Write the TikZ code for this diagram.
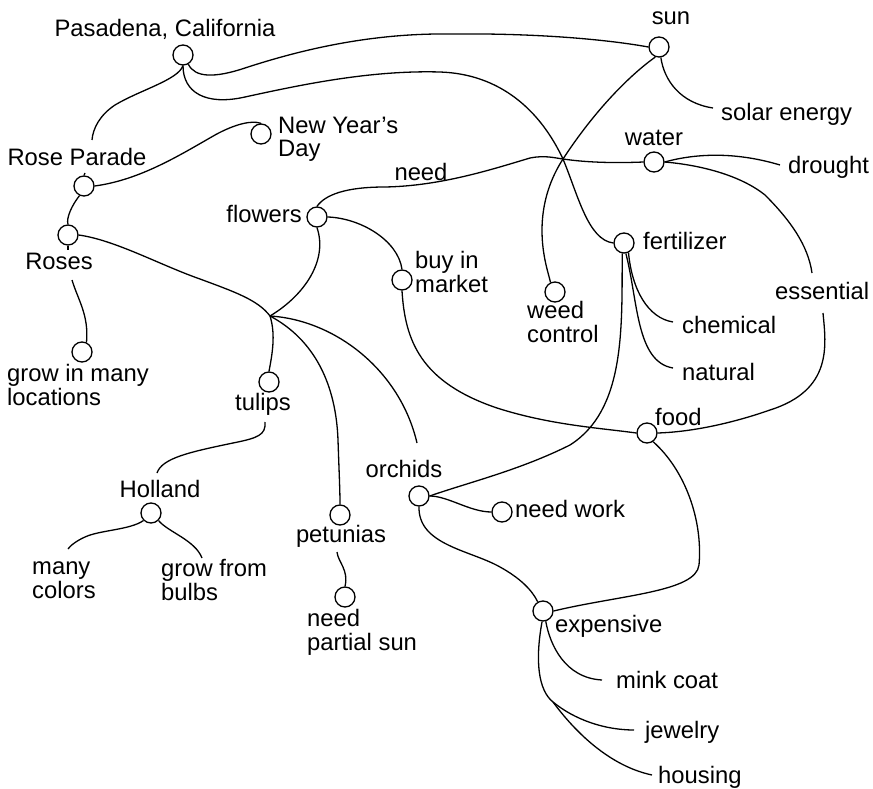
\documentclass[tikz,border=0pt]{standalone}
\usepackage{fontspec}
\setmainfont{Liberation Sans}
\begin{document}
\begin{tikzpicture}[x=1pt,y=-1pt,
  dot/.style={circle,draw,line width=1.3pt,minimum size=20pt,inner sep=0pt},
  lab/.style={inner sep=0pt,font=\fontsize{23.8}{23.5}\selectfont,align=left},
  con/.style={line width=1.3pt}]
\useasboundingbox (0,0) rectangle (873,789);
% circles
\node[dot] (pas) at (183,55) {};
\node[dot] (sun) at (659,47) {};
\node[dot] (wat) at (654,162) {};
\node[dot] (fer) at (624,243) {};
\node[dot] (weed) at (555,292) {};
\node[dot] (food) at (647,433) {};
\node[dot] (orc) at (419,496) {};
\node[dot] (nw) at (502,512) {};
\node[dot] (exp) at (543,611) {};
\node[dot] (pet) at (340,515) {};
\node[dot] (nps) at (345,597) {};
\node[dot] (tul) at (269,382) {};
\node[dot] (hol) at (151,513) {};
\node[dot] (gml) at (82,352) {};
\node[dot] (ros) at (68,235) {};
\node[dot] (rp) at (84,186) {};
\node[dot] (nyd) at (261,134) {};
\node[dot] (flo) at (317,217) {};
\node[dot] (bim) at (402,280) {};
% free ends
\coordinate (hub) at (270,316);
\coordinate (se) at (713,108);
\coordinate (dr) at (780,165);
\coordinate (es1) at (812,273);
\coordinate (es2) at (823,313);
\coordinate (ch) at (673,322);
\coordinate (na) at (673,368);
\coordinate (mk) at (602,680);
\coordinate (br) at (553,702);
\coordinate (jw) at (634,730);
\coordinate (hs) at (652,775);
\coordinate (mc) at (68,549);
\coordinate (gb) at (202,558);
\coordinate (rpa) at (92,140);
\coordinate (rpb) at (85,173);
\coordinate (rsa) at (68,250);
\coordinate (rsb) at (72,280);
\coordinate (tb) at (265,422);
\coordinate (ht) at (157,473);
\coordinate (pb) at (337,552);
\coordinate (oa) at (417,443);
% connectors
\draw[con] (pas.-60) .. controls (195,78) and (215,78) .. (245,68) .. controls (300,50) and (370,33) .. (450,34) .. controls (540,33) and (610,40) .. (sun.west);
\draw[con] (pas.south) .. controls (183,92) and (205,106) .. (245,97) .. controls (300,85) and (370,70) .. (440,72) .. controls (500,74) and (540,110) .. (563,159) .. controls (578,195) and (588,240) .. (fer.west);
\draw[con] (sun.-80) .. controls (664,80) and (680,103) .. (se);
\draw[con] (sun.-110) .. controls (630,75) and (595,110) .. (563,159) .. controls (543,190) and (538,225) .. (545,260) .. controls (547,270) and (549,276) .. (weed.115);
\draw[con] (flo.north) .. controls (325,195) and (345,187) .. (385,187) .. controls (440,186) and (490,170) .. (530,158) .. controls (545,155) and (555,158) .. (563,159) .. controls (590,163) and (620,163) .. (wat.west);
\draw[con] (wat.east) .. controls (690,155) and (730,150) .. (dr);
\draw[con] (wat.east) .. controls (700,165) and (740,175) .. (765,195) .. controls (790,220) and (808,245) .. (es1);
\draw[con] (es2) .. controls (826,345) and (833,390) .. (770,410) .. controls (730,424) and (690,432) .. (food.east);
\draw[con] (fer.-65) .. controls (632,290) and (648,318) .. (ch);
\draw[con] (fer.-80) .. controls (638,300) and (636,362) .. (na);
\draw[con] (fer.-100) .. controls (622,330) and (625,410) .. (570,445) .. controls (520,470) and (470,482) .. (orc.east);
\draw[con] (bim.south) .. controls (405,340) and (420,382) .. (497,408) .. controls (550,425) and (600,428) .. (food.west);
\draw[con] (food.-55) .. controls (685,470) and (703,520) .. (699,565) .. controls (696,592) and (620,595) .. (exp.east);
\draw[con] (orc.south) .. controls (418,545) and (470,550) .. (500,567) .. controls (520,578) and (532,590) .. (exp.120);
\draw[con] (orc.east) .. controls (448,496) and (470,512) .. (nw.west);
\draw[con] (exp.-75) .. controls (550,645) and (565,678) .. (mk);
\draw[con] (exp.-95) .. controls (535,660) and (538,690) .. (br);
\draw[con] (br) .. controls (575,720) and (605,730) .. (jw);
\draw[con] (br) .. controls (570,725) and (605,765) .. (hs);
\draw[con] (flo.east) .. controls (360,218) and (398,240) .. (bim.north);
\draw[con] (flo.south) .. controls (328,260) and (305,295) .. (hub);
\draw[con] (ros.east) .. controls (115,240) and (160,265) .. (200,279) .. controls (235,292) and (258,300) .. (hub);
\draw[con] (hub) .. controls (276,335) and (272,355) .. (tul.north);
\draw[con] (hub) .. controls (315,340) and (336,385) .. (338,440) .. controls (339,470) and (340,490) .. (pet.north);
\draw[con] (hub) .. controls (335,320) and (400,370) .. (oa);
\draw[con] (pas.south) .. controls (178,80) and (140,90) .. (115,105) .. controls (100,115) and (93,128) .. (rpa);
\draw[con] (rpb) -- (rp.north);
\draw[con] (rp.east) .. controls (140,180) and (180,155) .. (215,135) .. controls (235,124) and (252,120) .. (nyd.north);
\draw[con] (rp.-115) .. controls (72,205) and (66,218) .. (ros.north);
\draw[con] (ros.south) -- (rsa);
\draw[con] (rsb) .. controls (78,300) and (89,315) .. (gml.65);
\draw[con] (tb) .. controls (266,435) and (258,438) .. (233,443) .. controls (190,452) and (162,458) .. (ht);
\draw[con] (hol.-135) .. controls (130,530) and (100,530) .. (85,537) .. controls (76,541) and (70,546) .. (mc);
\draw[con] (hol.-45) .. controls (168,532) and (195,540) .. (gb);
\draw[con] (pb) .. controls (338,562) and (349,570) .. (nps.north);
% labels
\node[lab,anchor=base] (lpas) at (165,37) {Pasadena, California};
\node[lab,anchor=base] (lsun) at (671,25) {sun};
\node[lab,anchor=base west] (lse) at (721,121) {solar energy};
\node[lab,anchor=base] (lwat) at (654,146) {water};
\node[lab,anchor=base west] (ldr) at (788,174) {drought};
\node[lab,anchor=base west] (lfer) at (643,249) {fertilizer};
\node[lab,anchor=base west] (less) at (775,299) {essential};
\node[lab,anchor=base west] (lweed) at (527,342) {weed\\control};
\node[lab,anchor=base west] (lch) at (682,333) {chemical};
\node[lab,anchor=base west] (lna) at (682,380) {natural};
\node[lab,anchor=base west] (lfood) at (655,425) {food};
\node[lab,anchor=base] (lorc) at (404,477) {orchids};
\node[lab,anchor=base west] (lnw) at (515,517) {need work};
\node[lab,anchor=base west] (lexp) at (555,632) {expensive};
\node[lab,anchor=base west] (lmk) at (616,688) {mink coat};
\node[lab,anchor=base west] (ljw) at (645,738) {jewelry};
\node[lab,anchor=base west] (lhs) at (658,783) {housing};
\node[lab,anchor=base] (lpet) at (341,542) {petunias};
\node[lab,anchor=base west] (lnps) at (307,650) {need\\partial sun};
\node[lab,anchor=base] (ltul) at (263,410) {tulips};
\node[lab,anchor=base] (lhol) at (160,497) {Holland};
\node[lab,anchor=base west] (lmc) at (32,598) {many\\colors};
\node[lab,anchor=base west] (lgb) at (161,600) {grow from\\bulbs};
\node[lab,anchor=base west] (lgml) at (7,405) {grow in many\\locations};
\node[lab,anchor=base] (lros) at (59,269) {Roses};
\node[lab,anchor=base] (lrp) at (77,165) {Rose Parade};
\node[lab,anchor=base west] (lnyd) at (278,157) {New Year’s\\Day};
\node[lab,anchor=base east] (lflo) at (302,222) {flowers};
\node[lab,anchor=base] (lneed) at (421,180) {need};
\node[lab,anchor=base west] (lbim) at (415,292) {buy in\\market};
\end{tikzpicture}
\end{document}
